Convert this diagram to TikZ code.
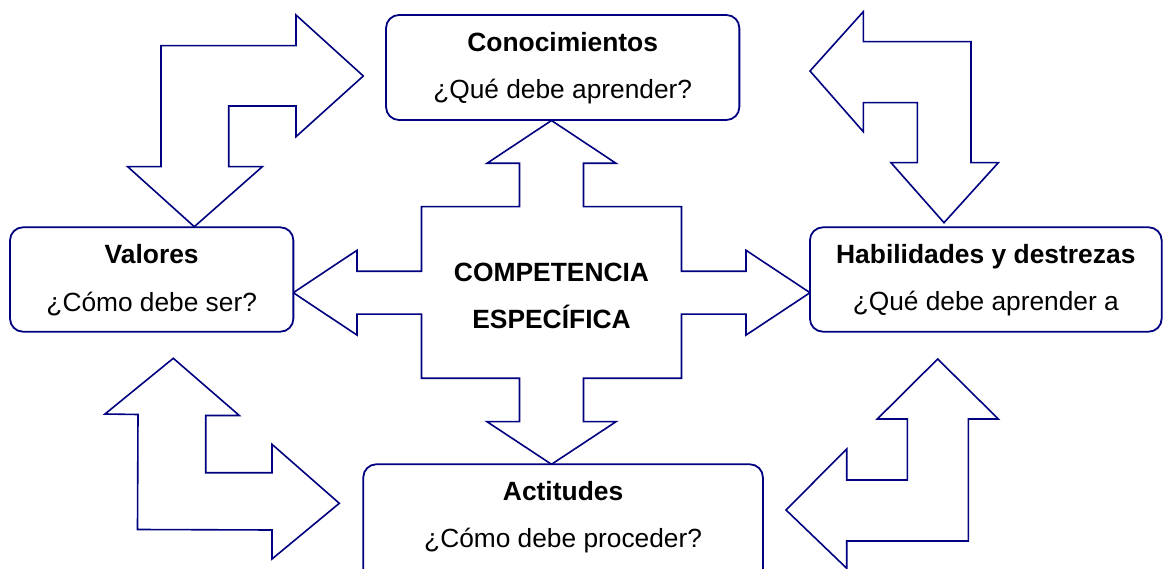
\documentclass[tikz,border=0pt]{standalone}
\usepackage{fontspec}
\setmainfont{Liberation Sans}
\definecolor{navy}{RGB}{0,0,128}
\begin{document}
\begin{tikzpicture}[x=1pt,y=-1pt,
  box/.style={draw=navy, line width=1.8pt, rounded corners=13pt, fill=white, inner sep=0pt},
  blockarrow/.style={draw=navy, line width=1.6pt, fill=white, line join=miter},
  ttl/.style={font=\fontsize{26.4pt}{30pt}\selectfont\bfseries, inner sep=0pt, text=black},
  sub/.style={font=\fontsize{26.3pt}{30pt}\selectfont, inner sep=0pt, text=black}]
\clip (0,0) rectangle (1163,569);
\fill[white] (0,0) rectangle (1163,569);

% central cross arrow
\draw[blockarrow] (421.5,206.7) -- (519.5,206.7) -- (519.5,163.3) -- (487,163.3) -- (551.5,120.5) -- (616,163.3) -- (583.5,163.3) -- (583.5,206.7) -- (681.5,206.7) -- (681.5,271.3) -- (746,271.3) -- (746,250.3) -- (810,292.7) -- (746,335.1) -- (746,314.1) -- (681.5,314.1) -- (681.5,378.3) -- (583.5,378.3) -- (583.5,421.7) -- (616,421.7) -- (551.5,464.3) -- (487,421.7) -- (519.5,421.7) -- (519.5,378.3) -- (421.5,378.3) -- (421.5,314.1) -- (357,314.1) -- (357,335.1) -- (293.3,292.7) -- (357,250.3) -- (357,271.3) -- (421.5,271.3) -- cycle;

% top-left bent arrow
\draw[blockarrow] (161,45.7) -- (296,45.7) -- (296,15) -- (363.3,76) -- (296,136.7) -- (296,106) -- (228.7,106) -- (228.7,166.7) -- (262.3,166.7) -- (194.3,226.7) -- (127.7,166.7) -- (161,166.7) -- cycle;

% top-right bent arrow
\draw[blockarrow] (863.3,41.7) -- (971,41.7) -- (971,162.7) -- (998.3,162.7) -- (944,222.7) -- (891,162.7) -- (917.3,162.7) -- (917.3,102.7) -- (863.3,102.7) -- (863.3,131.7) -- (810,71) -- (863.3,11.7) -- cycle;

% bottom-left bent arrow
\draw[blockarrow] (138,414.5) -- (105,414) -- (173.3,358.3) -- (239.3,415.5) -- (205.7,415.5) -- (205.7,472.7) -- (272,472.7) -- (272,444.3) -- (339.3,503.3) -- (272,559) -- (272,530) -- (137.5,529.5) -- cycle;

% bottom-right bent arrow
\draw[blockarrow] (907.3,419) -- (877.3,419) -- (937.7,359) -- (998.3,419) -- (968.3,419) -- (968.3,541) -- (846.7,541) -- (846.7,568.3) -- (786,510) -- (846.7,449) -- (846.7,480) -- (907.3,480) -- cycle;

% boxes
\node[box, minimum width=353.3pt, minimum height=105pt] (con) at (562.7,67.5) {};
\node[box, minimum width=283.3pt, minimum height=104.4pt] (val) at (151.7,279.5) {};
\node[box, minimum width=351.7pt, minimum height=104.4pt] (hab) at (985.8,279.5) {};
\node[box, minimum width=399.6pt, minimum height=140pt] (act) at (563.1,534.3) {};

% texts
\node[ttl, anchor=base] (conT) at ([yshift=-37pt]con.north) {Conocimientos};
\node[sub, anchor=base] (conS) at ([yshift=-84pt]con.north) {¿Qué debe aprender?};
\node[ttl, anchor=base] (valT) at ([yshift=-37pt]val.north) {Valores};
\node[sub, anchor=base] (valS) at ([yshift=-85pt]val.north) {¿Cómo debe ser?};
\node[ttl, anchor=base] (habT) at ([yshift=-37pt]hab.north) {Habilidades y destrezas};
\node[sub, anchor=base] (habS) at ([yshift=-84pt]hab.north) {¿Qué debe aprender a};
\node[ttl, anchor=base] (actT) at ([yshift=-37pt]act.north) {Actitudes};
\node[sub, anchor=base] (actS) at ([yshift=-84pt]act.north) {¿Cómo debe proceder?};
\node[ttl, anchor=base] (c1) at (551.5,281.7) {COMPETENCIA};
\node[ttl, anchor=base] (c2) at (551.5,328.3) {ESPECÍFICA};
\end{tikzpicture}
\end{document}
